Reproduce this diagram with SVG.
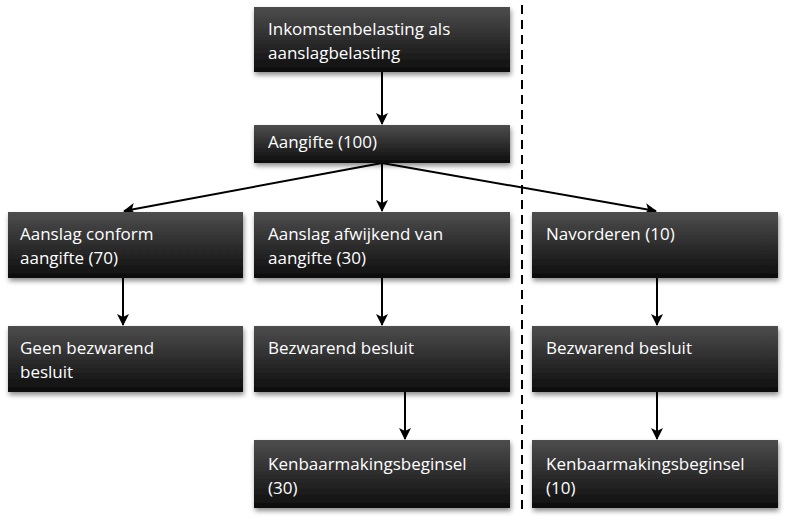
<svg xmlns="http://www.w3.org/2000/svg" width="800" height="520" viewBox="0 0 800 520">
<defs>
<linearGradient id="g" x1="0" y1="0" x2="0" y2="1"><stop offset="0" stop-color="#4d4d4d"/><stop offset="1" stop-color="#0d0d0d"/></linearGradient>
<filter id="sh" x="-10%" y="-20%" width="120%" height="150%"><feDropShadow dx="1" dy="3" stdDeviation="2.5" flood-color="#000" flood-opacity="0.45"/></filter>
<marker id="ah" viewBox="0 0 12 12" refX="11" refY="6" markerWidth="12" markerHeight="12" markerUnits="userSpaceOnUse" orient="auto"><path d="M0,0 L12,6 L0,12 L3,6 Z" fill="#000"/></marker>
<style>
rect{fill:url(#g);filter:url(#sh)}
text{fill:#fff;font-family:"Open Sans","Liberation Sans",sans-serif;font-size:17px}
.c line{stroke:#000;stroke-width:2;marker-end:url(#ah)}
</style>
</defs>
<rect width="800" height="520" style="fill:#fff;filter:none"/>
<line x1="522" y1="5" x2="522" y2="515" stroke="#000" stroke-width="2" stroke-dasharray="9,6"/>
<g class="c">
<line x1="382" y1="72" x2="382" y2="124"/>
<line x1="382" y1="163" x2="382" y2="211"/>
<line x1="382" y1="163" x2="124" y2="211"/>
<line x1="382" y1="163" x2="656" y2="211"/>
<line x1="123" y1="278" x2="123" y2="325"/>
<line x1="382" y1="278" x2="382" y2="325"/>
<line x1="405" y1="392" x2="405" y2="439"/>
<line x1="657" y1="278" x2="657" y2="325"/>
<line x1="657" y1="392" x2="657" y2="439"/>
</g>
<g id="n1"><rect x="254" y="7" width="256" height="65"/><text x="268" y="35">Inkomstenbelasting als</text><text x="268" y="59">aanslagbelasting</text></g>
<g id="n2"><rect x="254" y="125" width="256" height="38"/><text x="268" y="148">Aangifte (100)</text></g>
<g id="n3"><rect x="8" y="212" width="235" height="66"/><text x="20" y="240">Aanslag conform</text><text x="20" y="264">aangifte (70)</text></g>
<g id="n4"><rect x="254" y="212" width="256" height="66"/><text x="268" y="240">Aanslag afwijkend van</text><text x="268" y="264">aangifte (30)</text></g>
<g id="n5"><rect x="532" y="212" width="246" height="66"/><text x="546" y="240">Navorderen (10)</text></g>
<g id="n6"><rect x="8" y="326" width="235" height="66"/><text x="20" y="354">Geen bezwarend</text><text x="20" y="378">besluit</text></g>
<g id="n7"><rect x="254" y="326" width="256" height="66"/><text x="268" y="354">Bezwarend besluit</text></g>
<g id="n8"><rect x="532" y="326" width="246" height="66"/><text x="546" y="354">Bezwarend besluit</text></g>
<g id="n9"><rect x="254" y="440" width="256" height="68"/><text x="268" y="470">Kenbaarmakingsbeginsel</text><text x="268" y="494">(30)</text></g>
<g id="n10"><rect x="532" y="440" width="246" height="68"/><text x="546" y="470">Kenbaarmakingsbeginsel</text><text x="546" y="494">(10)</text></g>
</svg>
